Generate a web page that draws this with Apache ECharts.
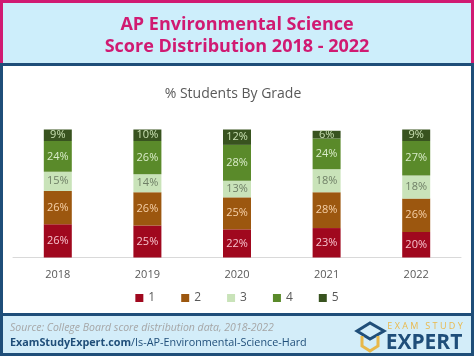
<!DOCTYPE html>
<html>
<head>
<meta charset="utf-8">
<script src="https://cdn.jsdelivr.net/npm/echarts@6/dist/echarts.min.js"></script>
<style>
html,body{margin:0;padding:0;background:#fff;}
#chart{width:474px;height:356px;}
</style>
</head>
<body>
<div id="chart"></div>
<script>
const years = ['2018', '2019', '2020', '2021', '2022'];
const grade1 = [26, 25, 22, 23, 20];
const grade2 = [26, 26, 25, 28, 26];
const grade3 = [15, 14, 13, 18, 18];
const grade4 = [24, 26, 28, 24, 27];
const grade5 = [9, 10, 12, 6, 9];
const seriesNames = ['1', '2', '3', '4', '5'];

const fills = ['#a0081e', '#9c570f', '#c9e3b9', '#5a8a2a', '#38531f'];
const labelColors = ['#f6c2cc', '#f6d0a8', '#6f7f66', '#d9ecc9', '#c9e0b2'];
const values = [grade1, grade2, grade3, grade4, grade5];

const chart = echarts.init(document.getElementById('chart'));

const DB = '#1f4e79';
const PINK = '#d01a72';
const HB = '#cdeefb';

const series = seriesNames.map((n, i) => ({
  name: n,
  type: 'bar',
  stack: 'total',
  barWidth: 28,
  data: values[i],
  itemStyle: { color: fills[i] },
  label: {
    show: true,
    position: 'inside',
    formatter: '{c}%',
    color: labelColors[i],
    fontSize: 11,
    fontFamily: 'Open Sans'
  }
}));

chart.setOption({
  animation: false,
  backgroundColor: '#ffffff',
  graphic: [
    { type: 'rect', shape: { x: 0, y: 0, width: 474, height: 64 }, style: { fill: HB }, z: -10 },
    { type: 'rect', shape: { x: 0, y: 0, width: 474, height: 3 }, style: { fill: PINK }, z: -9 },
    { type: 'rect', shape: { x: 0, y: 0, width: 3, height: 64 }, style: { fill: PINK }, z: -9 },
    { type: 'rect', shape: { x: 471, y: 0, width: 3, height: 64 }, style: { fill: PINK }, z: -9 },
    { type: 'rect', shape: { x: 0, y: 63, width: 474, height: 3 }, style: { fill: DB }, z: -9 },
    { type: 'rect', shape: { x: 0, y: 63, width: 3, height: 293 }, style: { fill: DB }, z: -9 },
    { type: 'rect', shape: { x: 471, y: 63, width: 3, height: 293 }, style: { fill: DB }, z: -9 },
    { type: 'rect', shape: { x: 0, y: 314, width: 474, height: 42 }, style: { fill: '#d3edf9' }, z: -10 },
    { type: 'rect', shape: { x: 0, y: 313, width: 474, height: 3 }, style: { fill: DB }, z: -9 },
    { type: 'rect', shape: { x: 0, y: 353, width: 474, height: 3 }, style: { fill: DB }, z: -9 },
    { type: 'rect', shape: { x: 0, y: 313, width: 3, height: 43 }, style: { fill: DB }, z: -9 },
    { type: 'rect', shape: { x: 471, y: 313, width: 3, height: 43 }, style: { fill: DB }, z: -9 },
    { type: 'text', x: 237, y: 25, style: { text: 'AP Environmental Science', fill: PINK, font: 'bold 18px "Open Sans"', textAlign: 'center', textVerticalAlign: 'middle' } },
    { type: 'text', x: 237, y: 47, style: { text: 'Score Distribution 2018 - 2022', fill: PINK, font: 'bold 18px "Open Sans"', textAlign: 'center', textVerticalAlign: 'middle' } },
    { type: 'text', x: 233, y: 94, style: { text: '% Students By Grade', fill: '#595959', font: '14px "Open Sans"', textAlign: 'center', textVerticalAlign: 'middle' } },
    { type: 'text', x: 10, y: 328, style: { text: 'Source: College Board score distribution data, 2018-2022', fill: '#a6a6a6', font: 'italic 10.5px "Open Sans"', textVerticalAlign: 'middle' } },
    { type: 'text', x: 10, y: 343, style: { text: '{b|ExamStudyExpert.com}{n|/Is-AP-Environmental-Science-Hard}', textVerticalAlign: 'middle',
        rich: { b: { fill: DB, font: 'bold 10.8px "Open Sans"' }, n: { fill: DB, font: '10.8px "Open Sans"' } } } },
    { type: 'polygon', shape: { points: [[357, 331], [370, 323], [384, 331], [370, 339]] }, style: { fill: 'none', stroke: DB, lineWidth: 3 } },
    { type: 'polyline', shape: { points: [[362, 336], [362, 346], [370, 351], [378, 346], [378, 336]] }, style: { fill: 'none', stroke: '#e8b84a', lineWidth: 3 } },
    { type: 'text', x: 425, y: 326, style: { text: 'E X A M   S T U D Y', fill: '#eab94c', font: '9px "Open Sans"', textAlign: 'center', textVerticalAlign: 'middle' } },
    { type: 'text', x: 424, y: 343, style: { text: 'EXPERT', fill: DB, font: 'bold 21px "Open Sans"', textAlign: 'center', textVerticalAlign: 'middle' } }
  ],
  grid: { left: 13, right: 13, top: 129.5, height: 128 },
  legend: {
    data: seriesNames,
    bottom: 47,
    left: 'center',
    itemWidth: 8,
    itemHeight: 8,
    itemGap: 26,
    icon: 'rect',
    textStyle: { color: '#595959', fontSize: 12, fontFamily: 'Open Sans' }
  },
  xAxis: {
    type: 'category',
    data: years,
    axisLine: { lineStyle: { color: '#d9d9d9', width: 1 } },
    axisTick: { show: false },
    axisLabel: { color: '#595959', fontSize: 11, fontFamily: 'Open Sans', margin: 12 }
  },
  yAxis: {
    type: 'value',
    min: 0,
    max: 100,
    show: false
  },
  series: series
});
</script>
</body>
</html>
